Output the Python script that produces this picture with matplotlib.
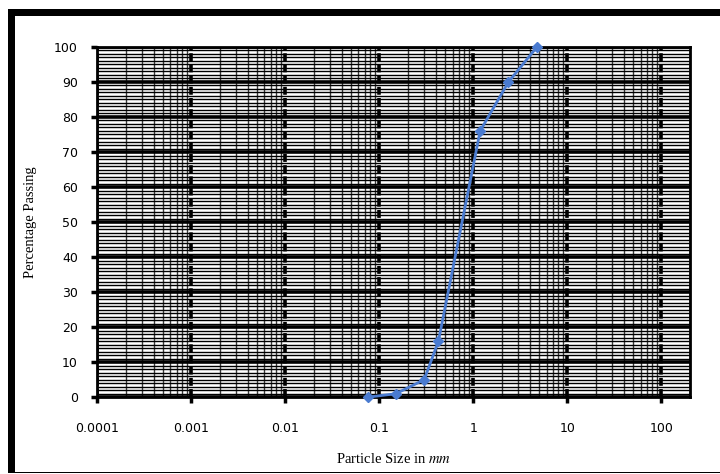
import matplotlib
matplotlib.use("Agg")
import matplotlib.pyplot as plt
from matplotlib.patches import Rectangle
from matplotlib.ticker import LogLocator, MultipleLocator, FixedLocator, NullFormatter

plt.rcParams["mathtext.fontset"] = "stix"

# sieve analysis data
sizes = [0.075, 0.15, 0.3, 0.425, 1.18, 2.36, 4.75]
passing = [0, 1, 5, 16, 76, 90, 100]

x_ticks = [0.0001, 0.001, 0.01, 0.1, 1, 10, 100]
x_tick_labels = ["0.0001", "0.001", "0.01", "0.1", "1", "10", "100"]

fig = plt.figure(figsize=(7.2, 4.74), dpi=100)
ax = fig.add_axes([0.135, 0.162, 0.823, 0.739])

# outer frame (thick top/left, thin bottom)
fig.patches.append(Rectangle((0.011, 0.966), 0.989, 0.016, transform=fig.transFigure,
                             facecolor="black", edgecolor="none"))
fig.patches.append(Rectangle((0.011, 0.003), 0.01, 0.979, transform=fig.transFigure,
                             facecolor="black", edgecolor="none"))
fig.patches.append(Rectangle((0.011, 0.002), 0.989, 0.003, transform=fig.transFigure,
                             facecolor="black", edgecolor="none"))

ax.set_xscale("log")
ax.set_xlim(1e-4, 200)
ax.set_ylim(0, 100)

ax.xaxis.set_major_locator(FixedLocator(x_ticks))
ax.set_xticklabels(x_tick_labels)
ax.xaxis.set_minor_locator(LogLocator(base=10, subs=range(2, 10), numticks=20))
ax.xaxis.set_minor_formatter(NullFormatter())
ax.yaxis.set_major_locator(MultipleLocator(10))
ax.yaxis.set_minor_locator(MultipleLocator(1))

ax.grid(which="major", axis="y", color="black", lw=2.6)
ax.grid(which="minor", axis="y", color="black", lw=1.0)
ax.grid(which="major", axis="x", color="black", lw=2.6, linestyle=(0, (2.2, 0.9)))
ax.grid(which="minor", axis="x", color="#3a3a3a", lw=1.0)
ax.set_axisbelow(True)

for s in ax.spines.values():
    s.set_linewidth(2.0)

ax.tick_params(which="major", direction="out", length=4, width=2.5,
               labelsize=9, pad=14)
ax.tick_params(which="minor", length=0)
ax.tick_params(axis="y", pad=10)

ax.plot(sizes, passing, color="#4a7bd0", lw=2, marker="D", markersize=5,
        markerfacecolor="#4a7bd0", markeredgecolor="#4a7bd0", zorder=5, clip_on=False)

ax.set_xlabel(r"Particle Size in $\mathit{mm}$", family="Liberation Serif", fontsize=10.5, labelpad=12)
ax.set_ylabel("Percentage Passing", family="Liberation Serif", fontsize=10.5, labelpad=12)

fig.savefig("out.png", dpi=100, facecolor="white")
